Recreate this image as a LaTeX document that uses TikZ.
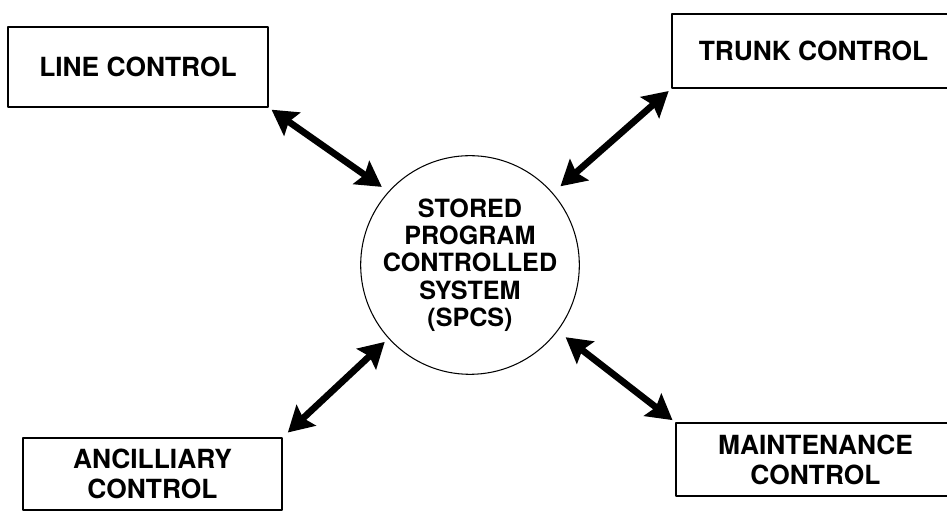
\documentclass[tikz,border=0pt]{standalone}
\usepackage{fontspec}
\setmainfont{TeX Gyre Heros}
\usetikzlibrary{arrows.meta}

\begin{document}
\begin{tikzpicture}[line cap=round, line join=round,
    ctrlbox/.style={draw, line width=0.8pt, align=center,
        font=\fontsize{15}{17}\selectfont\bfseries},
    link/.style={{Stealth[length=0.5cm, width=0.56cm, inset=0.08cm]}-{Stealth[length=0.5cm, width=0.56cm, inset=0.08cm]},
        line width=3.8pt}]

  \useasboundingbox (0, 0) rectangle (18.94, 10.28);

  % ── central system ───────────────────────────────────────────────────────

  \node[draw, circle, line width=0.6pt, minimum size=3.72cm, inner sep=0pt,
        align=center, font=\fontsize{14.3}{15.5}\selectfont\bfseries]
        (spcs) at (9.40, 4.98) {STORED\\PROGRAM\\CONTROLLED\\SYSTEM\\(SPCS)};

  % ── control blocks ───────────────────────────────────────────────────────

  \node[ctrlbox, minimum width=5.2cm, minimum height=1.6cm]
        (line) at (2.76, 8.94) {LINE CONTROL};

  \node[ctrlbox, minimum width=5.66cm, minimum height=1.48cm]
        (trunk) at (16.27, 9.26) {TRUNK CONTROL};

  \node[ctrlbox, minimum width=5.18cm, minimum height=1.44cm]
        (ancil) at (3.05, 0.80) {ANCILLIARY\\CONTROL};

  \node[ctrlbox, minimum width=5.58cm, minimum height=1.46cm]
        (maint) at (16.31, 1.09) {MAINTENANCE\\CONTROL};

  % ── two-way links ────────────────────────────────────────────────────────

  \draw[link, shorten <=2pt, shorten >=0.16cm] (line.south east) -- (spcs.138);
  \draw[link, shorten <=2pt, shorten >=0.2cm] (trunk.south west) -- (spcs.41);
  \draw[link, shorten <=4pt, shorten >=0.1cm] (ancil.north east) -- (spcs.222);
  \draw[link, shorten <=2pt, shorten >=0.2cm] (maint.north west) -- (spcs.-37);

\end{tikzpicture}
\end{document}
